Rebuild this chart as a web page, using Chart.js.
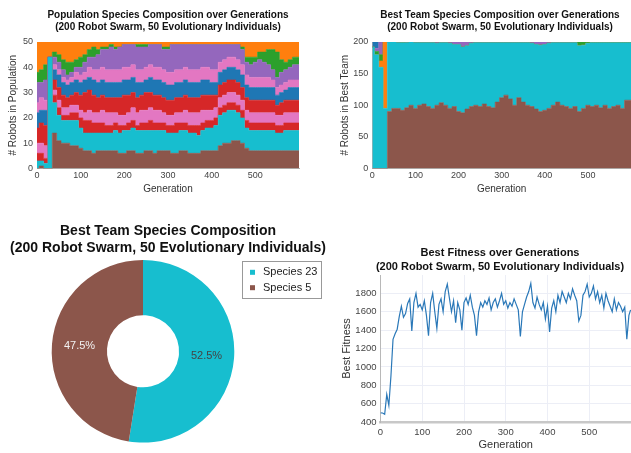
<!DOCTYPE html>
<html>
<head>
<meta charset="utf-8">
<script src="https://cdn.jsdelivr.net/npm/chart.js@4.4.1/dist/chart.umd.min.js"></script>
<style>
html, body { margin: 0; padding: 0; background: #fff; overflow: hidden; width: 631px; height: 453px; }
canvas { position: absolute; }
</style>
</head>
<body>
<canvas id="pop-chart" style="left:0;top:0;width:315px;height:200px" width="315" height="200"></canvas>
<canvas id="team-chart" style="left:315px;top:0;width:316px;height:200px" width="316" height="200"></canvas>
<canvas id="pie-chart" style="left:0;top:215px;width:340px;height:238px" width="340" height="238"></canvas>
<canvas id="fit-chart" style="left:320px;top:235px;width:311px;height:218px" width="311" height="218"></canvas>
<script>
// DADOS
const geracoes = [0, 10, 20, 30, 40, 50, 60, 70, 80, 90,
    100, 110, 120, 130, 140, 150, 160, 170, 180, 190,
    200, 210, 220, 230, 240, 250, 260, 270, 280, 290,
    300, 310, 320, 330, 340, 350, 360, 370, 380, 390,
    400, 410, 420, 430, 440, 450, 460, 470, 480, 490,
    500, 510, 520, 530, 540, 550, 560, 570, 580, 590, 600];

// população (50 indivíduos) - contagem por espécie, de baixo para cima
const popEspecie5 = [0, 1, 0, 0, 14, 11, 10, 10, 9, 9, 8, 7, 7, 6, 7, 7, 7, 7, 7, 6, 6, 7, 7, 6, 6, 7, 7, 6, 7, 7, 7, 6, 6, 7, 7, 6, 6, 6, 7, 7, 7, 7, 9, 10, 10, 11, 11, 10, 8, 7, 7, 7, 7, 7, 7, 7, 7, 7, 7, 7, 7];
const popEspecie23 = [3, 2, 2, 44, 12, 10, 9, 9, 10, 10, 8, 7, 7, 8, 7, 7, 7, 7, 8, 8, 9, 8, 9, 9, 9, 8, 8, 9, 8, 8, 7, 8, 8, 8, 8, 8, 8, 7, 8, 9, 9, 10, 12, 12, 13, 12, 11, 10, 8, 8, 8, 8, 8, 8, 8, 7, 7, 8, 8, 8, 8];
const popEspecie3 = [3, 3, 2, 0, 3, 3, 2, 2, 3, 3, 4, 5, 5, 4, 4, 4, 3, 3, 3, 3, 2, 3, 3, 2, 3, 3, 4, 3, 3, 3, 3, 3, 4, 3, 3, 3, 3, 4, 3, 3, 3, 3, 3, 3, 3, 3, 3, 3, 3, 3, 3, 3, 3, 3, 3, 3, 3, 3, 3, 3, 3];
const popEspecie6 = [4, 4, 5, 0, 2, 3, 3, 3, 3, 3, 3, 3, 4, 4, 4, 5, 5, 5, 4, 4, 4, 4, 5, 5, 5, 5, 5, 5, 5, 4, 4, 4, 4, 4, 5, 5, 5, 5, 5, 4, 4, 4, 4, 4, 4, 4, 4, 4, 4, 4, 4, 4, 4, 4, 4, 4, 4, 4, 4, 4, 4];
const popEspecie13 = [6, 8, 8, 0, 4, 5, 5, 4, 4, 5, 6, 8, 8, 7, 6, 6, 6, 6, 6, 7, 8, 7, 6, 6, 6, 7, 6, 6, 6, 6, 6, 6, 6, 6, 6, 6, 6, 6, 6, 6, 6, 5, 5, 5, 5, 5, 5, 5, 5, 5, 5, 5, 5, 5, 5, 4, 5, 5, 5, 5, 5];
const popEspecie0 = [6, 5, 6, 0, 4, 5, 5, 5, 5, 5, 5, 5, 5, 6, 6, 6, 6, 6, 6, 6, 6, 6, 6, 6, 5, 5, 6, 6, 6, 6, 6, 6, 6, 6, 6, 6, 6, 6, 6, 6, 5, 5, 5, 5, 5, 5, 5, 5, 5, 5, 5, 5, 5, 5, 5, 4, 4, 4, 5, 5, 5];
const popEspecie16 = [4, 5, 4, 0, 2, 2, 2, 2, 2, 3, 3, 3, 4, 4, 5, 5, 5, 5, 5, 5, 5, 5, 5, 5, 5, 5, 5, 5, 5, 5, 5, 5, 5, 5, 5, 5, 5, 5, 5, 5, 5, 5, 4, 4, 4, 4, 4, 4, 4, 4, 4, 4, 4, 4, 3, 3, 3, 3, 3, 3, 3];
const popEspecie4 = [8, 6, 8, 0, 3, 3, 3, 2, 2, 2, 3, 4, 4, 5, 6, 7, 8, 9, 8, 9, 9, 9, 8, 9, 9, 8, 8, 9, 9, 8, 9, 11, 10, 10, 9, 10, 10, 10, 9, 9, 10, 10, 7, 6, 5, 5, 6, 6, 5, 5, 6, 7, 6, 5, 4, 4, 5, 5, 5, 6, 6];
const popEspecie2 = [4, 5, 6, 0, 2, 3, 4, 5, 4, 3, 4, 3, 3, 4, 2, 1, 1, 1, 1, 0, 0, 0, 0, 1, 1, 1, 0, 0, 0, 1, 1, 0, 0, 0, 0, 0, 0, 0, 0, 0, 0, 0, 0, 0, 0, 0, 0, 1, 2, 3, 2, 3, 4, 6, 8, 10, 5, 3, 3, 3, 3];
const popEspecie1 = [12, 11, 9, 6, 4, 5, 7, 8, 8, 7, 6, 5, 3, 2, 3, 2, 2, 1, 2, 2, 1, 1, 1, 1, 1, 1, 1, 1, 1, 2, 2, 1, 1, 1, 1, 1, 1, 1, 1, 1, 1, 1, 1, 1, 1, 1, 1, 2, 6, 6, 6, 4, 4, 3, 3, 4, 7, 8, 7, 6, 6];

// melhor time (200 robôs)
const timeEspecie5 = [0, 0, 0, 0, 90, 95, 95, 92, 96, 100, 95, 100, 102, 98, 95, 100, 104, 100, 95, 98, 90, 88, 94, 98, 100, 98, 102, 98, 96, 105, 112, 116, 110, 100, 112, 105, 100, 98, 94, 90, 92, 95, 100, 105, 100, 98, 95, 98, 90, 95, 100, 98, 100, 96, 100, 95, 98, 100, 95, 108, 108];
const timeEspecie23 = [192, 180, 160, 95, 110, 105, 104, 107, 103, 100, 104, 99, 97, 101, 104, 98, 95, 99, 103, 98, 106, 104, 100, 100, 99, 101, 97, 101, 103, 94, 87, 83, 89, 99, 87, 94, 99, 100, 102, 105, 104, 103, 99, 94, 99, 101, 104, 101, 104, 100, 98, 101, 99, 103, 99, 104, 101, 99, 104, 91, 91];
const timeEspecie1 = [0, 0, 10, 105, 0, 0, 0, 0, 0, 0, 0, 0, 0, 0, 0, 0, 0, 0, 0, 0, 0, 0, 0, 0, 0, 0, 0, 0, 0, 0, 0, 0, 0, 0, 0, 0, 0, 0, 0, 0, 0, 0, 0, 0, 0, 0, 0, 0, 0, 0, 0, 0, 0, 0, 0, 0, 0, 0, 0, 0, 0];
const timeEspecie2 = [0, 5, 10, 0, 0, 0, 0, 1, 0, 0, 0, 0, 0, 0, 0, 0, 0, 0, 0, 0, 0, 0, 0, 0, 0, 0, 0, 0, 0, 0, 0, 0, 0, 0, 0, 0, 0, 0, 0, 0, 0, 0, 0, 0, 0, 0, 0, 0, 6, 5, 2, 1, 1, 1, 1, 1, 1, 1, 1, 1, 1];
const timeEspecie4 = [0, 5, 20, 0, 0, 0, 1, 0, 1, 0, 1, 1, 1, 1, 1, 2, 1, 1, 2, 4, 4, 8, 6, 2, 1, 1, 1, 1, 1, 1, 1, 1, 1, 1, 1, 1, 1, 2, 4, 5, 4, 2, 1, 1, 1, 1, 1, 1, 0, 0, 0, 0, 0, 0, 0, 0, 0, 0, 0, 0, 0];
const timeEspecie0 = [8, 10, 0, 0, 0, 0, 0, 0, 0, 0, 0, 0, 0, 0, 0, 0, 0, 0, 0, 0, 0, 0, 0, 0, 0, 0, 0, 0, 0, 0, 0, 0, 0, 0, 0, 0, 0, 0, 0, 0, 0, 0, 0, 0, 0, 0, 0, 0, 0, 0, 0, 0, 0, 0, 0, 0, 0, 0, 0, 0, 0];

// composição final do melhor time
const rotulosEspecies = ['Species 23', 'Species 5'];
const contagemEspecies = [105, 95];

// melhor fitness
const geracoesFitness = [0, 5, 10, 15, 20, 25, 30, 35, 40, 45, 50, 55, 60, 65, 70, 75, 80, 85, 90, 95,
    100, 105, 110, 115, 120, 125, 130, 135, 140, 145, 150, 155, 160, 165, 170, 175, 180, 185, 190, 195,
    200, 205, 210, 215, 220, 225, 230, 235, 240, 245, 250, 255, 260, 265, 270, 275, 280, 285, 290, 295,
    300, 305, 310, 315, 320, 325, 330, 335, 340, 345, 350, 355, 360, 365, 370, 375, 380, 385, 390, 395,
    400, 405, 410, 415, 420, 425, 430, 435, 440, 445, 450, 455, 460, 465, 470, 475, 480, 485, 490, 495,
    500, 505, 510, 515, 520, 525, 530, 535, 540, 545, 550, 555, 560, 565, 570, 575, 580, 585, 590, 595, 599];
const melhorFitness = [500, 498, 485, 700, 580, 900, 1300, 1360, 1410, 1550,
    1660, 1540, 1580, 1690, 1740, 1390, 1700, 1800, 1650, 1680,
    1620, 1720, 1560, 1340, 1700, 1800, 1600, 1420, 1680, 1740,
    1600, 1820, 1900, 1750, 1600, 1720, 1480, 1700, 1620, 1400,
    1700, 1750, 1680, 1780, 1650, 1560, 1340, 1600, 1700, 1650,
    1720, 1680, 1750, 1620, 1700, 1740, 1650, 1720, 1800, 1680,
    1720, 1640, 1700, 1660, 1740, 1680, 1620, 1330, 1600, 1680,
    1760, 1820, 1910, 1700, 1640, 1760, 1680, 1620, 1700, 1520,
    1660, 1380, 1640, 1720, 1600, 1780, 1700, 1820, 1760, 1700,
    1800, 1740, 1850, 1780, 1720, 1500, 1560, 1780, 1820, 1900,
    1760, 1800, 1880, 1740, 1820, 1700, 1780, 1640, 1800, 1720,
    1660, 1600, 1740, 1620, 1700, 1660, 1600, 1650, 1300, 1560, 1620];

// CORES
const AZUL = '#1f77b4', LARANJA = '#ff7f0e', VERDE = '#2ca02c', VERMELHO = '#d62728',
      ROXO = '#9467bd', MARROM = '#8c564b', ROSA = '#e377c2', CIANO = '#17becf';
const FONTE = "'Liberation Sans', Arial, sans-serif";

Chart.defaults.font.family = FONTE;
Chart.defaults.color = '#444';
Chart.defaults.animation = false;
Chart.defaults.plugins.legend.display = false;
Chart.defaults.plugins.tooltip.enabled = false;

// título centralizado sobre a área do gráfico
const tituloCentral = {
    id: 'tituloCentral',
    afterDraw(chart, args, opts) {
        const {ctx, chartArea} = chart;
        const cx = opts.centroX != null ? opts.centroX : (chartArea.left + chartArea.right) / 2;
        ctx.save();
        ctx.font = `bold ${opts.tamanho}px ${FONTE}`;
        ctx.fillStyle = '#111';
        ctx.textAlign = 'center';
        ctx.textBaseline = 'middle';
        opts.linhas.forEach((linha, i) => ctx.fillText(linha, cx, opts.y + i * opts.espaco));
        ctx.restore();
    }
};

const TITULO_2 = '(200 Robot Swarm, 50 Evolutionary Individuals)';

// só mantém os ticks múltiplos do passo e abaixo do limite
function filtraTicks(passo, limite) {
    return scale => { scale.ticks = scale.ticks.filter(t => t.value % passo === 0 && t.value < limite); };
}

function camadas(series) {
    return series.map((s, i) => ({
        label: s.nome,
        data: s.valores.map((v, k) => ({x: geracoes[k], y: v})),
        backgroundColor: s.cor,
        borderColor: s.cor,
        borderWidth: 0.6,
        pointRadius: 0,
        stepped: 'middle',
        fill: i === 0 ? 'origin' : '-1'
    }));
}

function eixosEmpilhados(maxY, passoY, tituloY, larguraY, padTituloY, padTituloX) {
    return {
        x: {
            type: 'linear', min: 0, max: 600,
            grid: {display: false, drawTicks: false},
            border: {display: true, color: '#b0b0b0', width: 1},
            ticks: {stepSize: 100, padding: 2, font: {size: 9}, maxRotation: 0, autoSkip: false},
            afterBuildTicks: filtraTicks(100, 600),
            afterFit: scale => { scale.height = 31.5; },
            title: {display: true, text: 'Generation', color: '#333', font: {size: 10}, padding: {top: 0, bottom: padTituloX}}
        },
        y: {
            stacked: true, min: 0, max: maxY,
            grid: {display: false, drawTicks: false},
            border: {display: true, color: '#b0b0b0', width: 1},
            ticks: {stepSize: passoY, padding: 4, font: {size: 9}},
            afterFit: scale => { scale.width = larguraY; },
            title: {display: true, text: tituloY, color: '#333', font: {size: 10}, padding: {top: padTituloY, bottom: 0}}
        }
    };
}

// GRÁFICO 1 - composição da população
new Chart(document.getElementById('pop-chart'), {
    type: 'line',
    data: {
        datasets: camadas([
            {nome: 'Species 5', valores: popEspecie5, cor: MARROM},
            {nome: 'Species 23', valores: popEspecie23, cor: CIANO},
            {nome: 'Species 3', valores: popEspecie3, cor: VERMELHO},
            {nome: 'Species 6', valores: popEspecie6, cor: ROSA},
            {nome: 'Species 13', valores: popEspecie13, cor: VERMELHO},
            {nome: 'Species 0', valores: popEspecie0, cor: AZUL},
            {nome: 'Species 16', valores: popEspecie16, cor: ROSA},
            {nome: 'Species 4', valores: popEspecie4, cor: ROXO},
            {nome: 'Species 2', valores: popEspecie2, cor: VERDE},
            {nome: 'Species 1', valores: popEspecie1, cor: LARANJA}
        ])
    },
    options: {
        responsive: false,
        layout: {padding: {top: 42, right: 16, left: 0, bottom: 0}},
        scales: eixosEmpilhados(50, 10, '# Robots in Population', 37, 7.3, 5),
        plugins: {
            tituloCentral: {linhas: ['Population Species Composition over Generations', TITULO_2], tamanho: 10, y: 15, espaco: 12.3}
        }
    },
    plugins: [tituloCentral]
});

// GRÁFICO 2 - composição do melhor time
new Chart(document.getElementById('team-chart'), {
    type: 'line',
    data: {
        datasets: camadas([
            {nome: 'Species 5', valores: timeEspecie5, cor: MARROM},
            {nome: 'Species 23', valores: timeEspecie23, cor: CIANO},
            {nome: 'Species 1', valores: timeEspecie1, cor: LARANJA},
            {nome: 'Species 2', valores: timeEspecie2, cor: VERDE},
            {nome: 'Species 4', valores: timeEspecie4, cor: ROXO},
            {nome: 'Species 0', valores: timeEspecie0, cor: AZUL}
        ])
    },
    options: {
        responsive: false,
        layout: {padding: {top: 42, right: 0, left: 0, bottom: 0}},
        scales: eixosEmpilhados(200, 50, '# Robots in Best Team', 57.3, 24.7, 4.7),
        plugins: {
            tituloCentral: {linhas: ['Best Team Species Composition over Generations', TITULO_2], tamanho: 10, y: 15, espaco: 12.3, centroX: 185}
        }
    },
    plugins: [tituloCentral]
});

// rótulos de porcentagem dentro das fatias
const rotulosPct = {
    id: 'rotulosPct',
    afterDatasetsDraw(chart, args, opts) {
        const {ctx} = chart;
        const dados = chart.data.datasets[0].data;
        const total = dados.reduce((a, b) => a + b, 0);
        ctx.save();
        ctx.font = `11px ${FONTE}`;
        ctx.textAlign = 'center';
        ctx.textBaseline = 'middle';
        chart.getDatasetMeta(0).data.forEach((arco, i) => {
            const pos = arco.tooltipPosition(true);
            ctx.fillStyle = opts.cores[i];
            ctx.fillText((dados[i] / total * 100).toFixed(1) + '%', pos.x, pos.y);
        });
        ctx.restore();
    }
};

// legenda com moldura
const legendaCaixa = {
    id: 'legendaCaixa',
    afterDraw(chart, args, opts) {
        const {ctx} = chart;
        const cores = chart.data.datasets[0].backgroundColor;
        ctx.save();
        ctx.strokeStyle = '#999';
        ctx.lineWidth = 1;
        ctx.strokeRect(opts.x + 0.5, opts.y + 0.5, opts.largura, opts.altura);
        ctx.font = `11px ${FONTE}`;
        ctx.textAlign = 'left';
        ctx.textBaseline = 'middle';
        chart.data.labels.forEach((rotulo, i) => {
            const yy = opts.y + opts.primeira + i * opts.espaco;
            ctx.fillStyle = cores[i];
            ctx.fillRect(opts.x + 8, yy - 2.5, 5, 5);
            ctx.fillStyle = '#222';
            ctx.fillText(rotulo, opts.x + 21, yy);
        });
        ctx.restore();
    }
};

// GRÁFICO 3 - rosca
new Chart(document.getElementById('pie-chart'), {
    type: 'doughnut',
    data: {
        labels: rotulosEspecies,
        datasets: [{
            data: contagemEspecies,
            backgroundColor: [CIANO, MARROM],
            borderWidth: 0,
            hoverOffset: 0,
            offset: 0
        }]
    },
    options: {
        responsive: false,
        cutout: '39.5%',
        layout: {padding: {left: 51.7, right: 105.7, top: 45, bottom: 10.4}},
        plugins: {
            tituloCentral: {linhas: ['Best Team Species Composition', TITULO_2], tamanho: 14, y: 15.7, espaco: 17.6, centroX: 168},
            rotulosPct: {cores: ['#444', '#f2f2f2']},
            legendaCaixa: {x: 242, y: 46, largura: 79, altura: 37, primeira: 11.3, espaco: 15.4}
        }
    },
    plugins: [tituloCentral, rotulosPct, legendaCaixa]
});

// GRÁFICO 4 - melhor fitness
new Chart(document.getElementById('fit-chart'), {
    type: 'line',
    data: {
        datasets: [{
            label: 'Best Fitness',
            data: melhorFitness.map((v, k) => ({x: geracoesFitness[k], y: v})),
            borderColor: '#2a78b8',
            borderWidth: 1.2,
            pointRadius: 0,
            tension: 0,
            fill: false
        }]
    },
    options: {
        responsive: false,
        layout: {padding: {top: 40, right: 0, left: 0, bottom: 0}},
        scales: {
            x: {
                type: 'linear', min: 0, max: 600,
                grid: {color: '#eceef6', drawTicks: false},
                border: {display: true, color: '#c8c8c8', width: 2.5},
                ticks: {stepSize: 100, padding: 5, font: {size: 9.5}, maxRotation: 0, autoSkip: false, format: {useGrouping: false}},
                afterBuildTicks: filtraTicks(100, 600),
                afterFit: scale => { scale.height = 31; },
                title: {display: true, text: 'Generation', color: '#333', font: {size: 11}, padding: {top: 0, bottom: 1.4}}
            },
            y: {
                min: 400, max: 2000,
                grid: {color: '#eceef6', drawTicks: false},
                border: {display: true, color: '#b8b8b8', width: 1},
                ticks: {stepSize: 200, padding: 4, font: {size: 9.5}, autoSkip: false, format: {useGrouping: false}},
                afterBuildTicks: filtraTicks(200, 2000),
                afterFit: scale => { scale.width = 60.5; },
                title: {display: true, text: 'Best Fitness', color: '#333', font: {size: 11}, padding: {top: 20, bottom: 0}}
            }
        },
        plugins: {
            tituloCentral: {linhas: ['Best Fitness over Generations', TITULO_2], tamanho: 11, y: 18.3, espaco: 14, centroX: 180}
        }
    },
    plugins: [tituloCentral]
});
</script>
</body>
</html>
